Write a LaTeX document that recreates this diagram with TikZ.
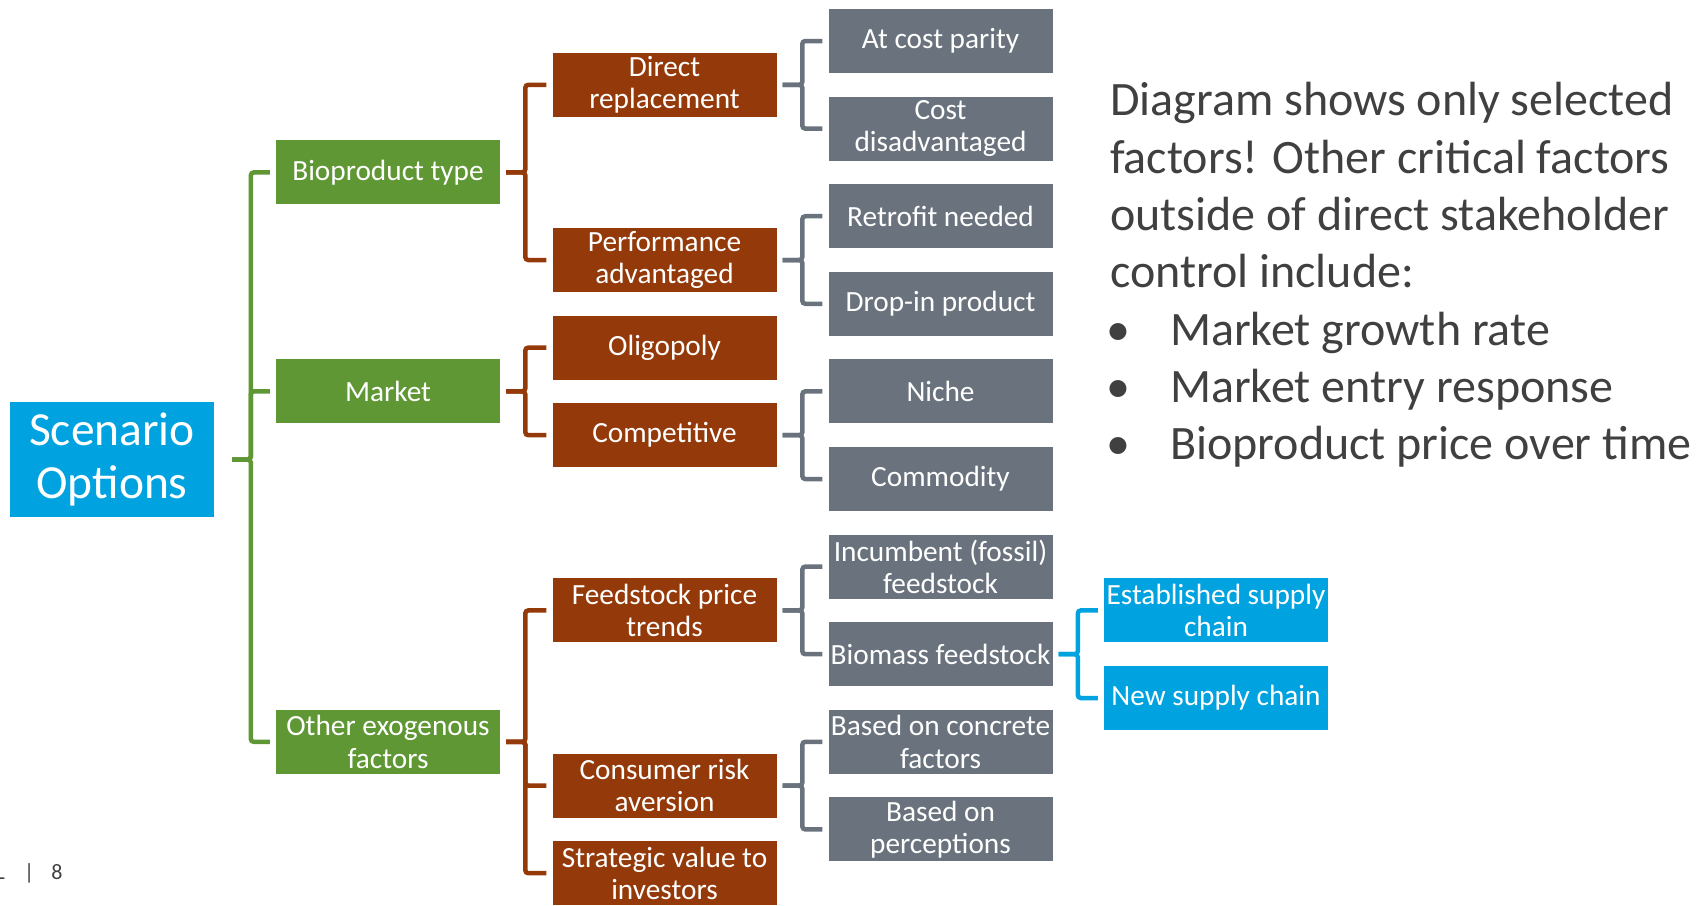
\documentclass[tikz,border=0pt]{standalone}
\usepackage{fontspec}
\setmainfont{Carlito}
\usetikzlibrary{calc}

\definecolor{optgreen}{RGB}{95,151,52}
\definecolor{optbrown}{RGB}{148,58,10}
\definecolor{optgray}{RGB}{106,115,125}
\definecolor{optblue}{RGB}{0,163,224}
\definecolor{notegray}{RGB}{64,64,64}

\tikzset{
  box/.style={minimum width=224pt, minimum height=64pt, inner sep=0pt, text=white,
    align=center, font=\fontsize{29.3}{32.4}\selectfont},
  factor/.style={box, fill=optgreen},
  option/.style={box, fill=optbrown},
  case/.style={box, fill=optgray},
  chain/.style={box, fill=optblue},
  link/.style={line width=4.5pt, rounded corners=3pt},
  note/.style={anchor=base west, inner sep=0pt, text=notegray,
    font=\fontsize{48}{57}\selectfont},
}

\begin{document}
\begin{tikzpicture}[x=1pt,y=-1pt]
\useasboundingbox (0,0) rectangle (1696,905);

% root
\node[fill=optblue, text=white, minimum width=204pt, minimum height=115pt, inner sep=0pt,
  align=center, font=\fontsize{47.5}{53}\selectfont] (scen) at (112,459.5) {Scenario\\Options};

% first level
\node[factor] (bio) at (388,172.4) {Bioproduct type};
\node[factor] (mkt) at (388,391.4) {Market};
\node[factor] (exo) at (388,741.8) {Other exogenous\\factors};

% second level
\node[option] (dir) at (664.5,84.8) {Direct\\replacement};
\node[option] (perf) at (664.5,260) {Performance\\advantaged};
\node[option] (olig) at (664.5,347.6) {Oligopoly};
\node[option] (comp) at (664.5,435.2) {Competitive};
\node[option] (feed) at (664.5,610.4) {Feedstock price\\trends};
\node[option] (risk) at (664.5,785.6) {Consumer risk\\aversion};
\node[option] (strat) at (664.5,873.2) {Strategic value to\\investors};

% third level
\node[case] (par) at (940.5,41) {At cost parity};
\node[case] (dis) at (940.5,128.6) {Cost\\disadvantaged};
\node[case] (retro) at (940.5,216.2) {Retrofit needed};
\node[case] (drop) at (940.5,303.8) {Drop-in product};
\node[case] (niche) at (940.5,391.4) {Niche};
\node[case] (comm) at (940.5,479) {Commodity};
\node[case] (fossil) at (940.5,566.6) {Incumbent (fossil)\\feedstock};
\node[case] (biom) at (940.5,654.2) {Biomass feedstock};
\node[case] (conc) at (940.5,741.8) {Based on concrete\\factors};
\node[case] (perc) at (940.5,829.4) {Based on\\perceptions};

% fourth level
\node[chain] (est) at (1216,610.4) {Established supply\\chain};
\node[chain] (new) at (1216,698) {New supply chain};

% brackets
\path[draw,optgreen,link] ($(scen.east)+(18,0)$) -| ($(bio.west)+(-25,0)$) -- ($(bio.west)+(-6,0)$);
\path[draw,optgreen,link] ($(scen.east)+(18,0)$) -| ($(mkt.west)+(-25,0)$) -- ($(mkt.west)+(-6,0)$);
\path[draw,optgreen,link] ($(scen.east)+(18,0)$) -| ($(exo.west)+(-25,0)$) -- ($(exo.west)+(-6,0)$);

\path[draw,optbrown,link] ($(bio.east)+(6,0)$) -| ($(dir.west)+(-27,0)$) -- ($(dir.west)+(-6,0)$);
\path[draw,optbrown,link] ($(bio.east)+(6,0)$) -| ($(perf.west)+(-27,0)$) -- ($(perf.west)+(-6,0)$);
\path[draw,optbrown,link] ($(mkt.east)+(6,0)$) -| ($(olig.west)+(-27,0)$) -- ($(olig.west)+(-6,0)$);
\path[draw,optbrown,link] ($(mkt.east)+(6,0)$) -| ($(comp.west)+(-27,0)$) -- ($(comp.west)+(-6,0)$);
\path[draw,optbrown,link] ($(exo.east)+(6,0)$) -| ($(feed.west)+(-27,0)$) -- ($(feed.west)+(-6,0)$);
\path[draw,optbrown,link] ($(exo.east)+(6,0)$) -| ($(risk.west)+(-27,0)$) -- ($(risk.west)+(-6,0)$);
\path[draw,optbrown,link] ($(exo.east)+(6,0)$) -| ($(strat.west)+(-27,0)$) -- ($(strat.west)+(-6,0)$);

\path[draw,optgray,link] ($(dir.east)+(6,0)$) -| ($(par.west)+(-26,0)$) -- ($(par.west)+(-6,0)$);
\path[draw,optgray,link] ($(dir.east)+(6,0)$) -| ($(dis.west)+(-26,0)$) -- ($(dis.west)+(-6,0)$);
\path[draw,optgray,link] ($(perf.east)+(6,0)$) -| ($(retro.west)+(-26,0)$) -- ($(retro.west)+(-6,0)$);
\path[draw,optgray,link] ($(perf.east)+(6,0)$) -| ($(drop.west)+(-26,0)$) -- ($(drop.west)+(-6,0)$);
\path[draw,optgray,link] ($(comp.east)+(6,0)$) -| ($(niche.west)+(-26,0)$) -- ($(niche.west)+(-6,0)$);
\path[draw,optgray,link] ($(comp.east)+(6,0)$) -| ($(comm.west)+(-26,0)$) -- ($(comm.west)+(-6,0)$);
\path[draw,optgray,link] ($(feed.east)+(6,0)$) -| ($(fossil.west)+(-26,0)$) -- ($(fossil.west)+(-6,0)$);
\path[draw,optgray,link] ($(feed.east)+(6,0)$) -| ($(biom.west)+(-26,0)$) -- ($(biom.west)+(-6,0)$);
\path[draw,optgray,link] ($(risk.east)+(6,0)$) -| ($(conc.west)+(-26,0)$) -- ($(conc.west)+(-6,0)$);
\path[draw,optgray,link] ($(risk.east)+(6,0)$) -| ($(perc.west)+(-26,0)$) -- ($(perc.west)+(-6,0)$);

\path[draw,optblue,link] ($(biom.east)+(6,0)$) -| ($(est.west)+(-26,0)$) -- ($(est.west)+(-6,0)$);
\path[draw,optblue,link] ($(biom.east)+(6,0)$) -| ($(new.west)+(-26,0)$) -- ($(new.west)+(-6,0)$);

% side note
\node[note] (note1) at (1110,115.7) {Diagram shows only selected};
\node[note] (note2) at (1110,173) {factors! Other critical factors};
\node[note] (note3) at (1110,230.4) {outside of direct stakeholder};
\node[note] (note4) at (1110,287.7) {control include:};
\node[note] (note5) at (1110,345) {\makebox[60pt][l]{\hspace{-4pt}•}Market growth rate};
\node[note] (note6) at (1110,402.3) {\makebox[60pt][l]{\hspace{-4pt}•}Market entry response};
\node[note] (note7) at (1110,459.7) {\makebox[60pt][l]{\hspace{-4pt}•}Bioproduct price over time};

% footer
\node[anchor=base east, inner sep=0pt, text=notegray, font=\fontsize{22}{26}\selectfont] (brand) at (5,879) {NREL};
\node[anchor=base west, inner sep=0pt, text=notegray, font=\fontsize{22}{26}\selectfont] (page) at (24,879) {|\hspace{17pt}8};
\end{tikzpicture}
\end{document}
